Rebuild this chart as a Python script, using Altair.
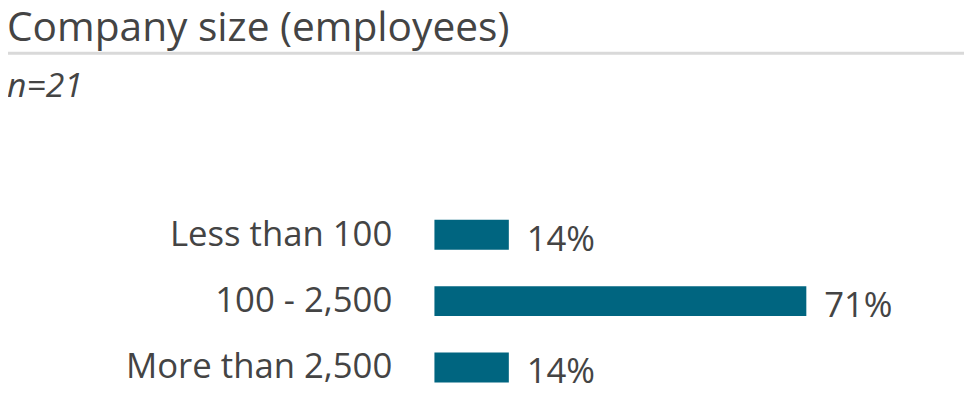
import altair as alt
import pandas as pd

categories = ["Less than 100", "100 - 2,500", "More than 2,500"]
shares = [14.29, 71.43, 14.29]
share_labels = ["14%", "71%", "14%"]
title_text = "Company size (employees)"
subtitle_text = "n=21"

FONT = "Open Sans"
TEXT = "#444444"
BAR = "#006580"

df = pd.DataFrame({"cat": categories, "share": shares, "label": share_labels})

y_enc = alt.Y("cat:N", sort=categories,
              scale=alt.Scale(paddingInner=0.55, paddingOuter=0),
              axis=alt.Axis(title=None, domain=False, ticks=False, labelPadding=43,
                            labelFont=FONT, labelFontSize=35, labelColor=TEXT,
                            labelLimit=500))
x_enc = alt.X("share:Q", scale=alt.Scale(domain=[0, 100]), axis=None)

bars = alt.Chart(df).mark_bar(color=BAR).encode(y=y_enc, x=x_enc)
labels = alt.Chart(df).mark_text(font=FONT, fontSize=35, color=TEXT, align="left",
                                 baseline="middle", dx=18, dy=5).encode(
    y=alt.Y("cat:N", sort=categories), x=x_enc, text="label:N")

tdf = pd.DataFrame({"t": [title_text]})
title = alt.Chart(tdf).mark_text(font=FONT, fontSize=41, color=TEXT, align="left",
                                 baseline="alphabetic").encode(
    x=alt.value(-431), y=alt.value(-180), text="t:N")
rule = alt.Chart(tdf).mark_rule(color="#d9d9d9", strokeWidth=3).encode(
    x=alt.value(-430), x2=alt.value(534), y=alt.value(-168))
sdf = pd.DataFrame({"t": [subtitle_text]})
subtitle = alt.Chart(sdf).mark_text(font=FONT, fontSize=34, fontStyle="italic", color=TEXT,
                                    align="left", baseline="alphabetic").encode(
    x=alt.value(-431), y=alt.value(-124), text="t:N")

chart = alt.layer(bars, labels, title, rule, subtitle).properties(
    width=525, height=164,
    autosize=alt.AutoSizeParams(type="none"),
    padding={"left": 430, "top": 212, "right": 9, "bottom": 11},
).configure_view(stroke=None)

chart.save("out.html", embed_options={"renderer": "svg", "actions": False})
